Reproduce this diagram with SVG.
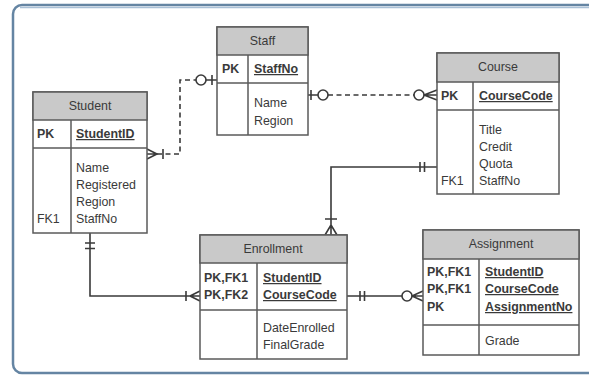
<svg xmlns="http://www.w3.org/2000/svg" width="589" height="377" viewBox="0 0 589 377">
<style>
.box{fill:#ffffff;stroke:#5a5a5a;stroke-width:1.5}
.hdr{fill:#c9c9c9;stroke:#5a5a5a;stroke-width:1.5}
.ln{stroke:#5a5a5a;stroke-width:1.5;fill:none}
text{font-family:"Liberation Sans",Arial,sans-serif;font-size:12.4px;fill:#3a3a3a}
.t{text-anchor:middle}
.b{font-weight:bold}
.u{font-weight:bold;text-decoration:underline}
.c{stroke:#3a3a3a;stroke-width:1.6;fill:none}
.d{stroke-dasharray:5,3.5}
.o{fill:#ffffff;stroke:#3a3a3a;stroke-width:1.6}
</style>
<rect x="0" y="0" width="589" height="377" fill="#ffffff"/>
<rect x="13" y="5" width="590" height="368" rx="9" fill="#ffffff" stroke="#6585a3" stroke-width="2.5"/>
<line x1="20" y1="7.5" x2="589" y2="7.5" stroke="#a9c0d6" stroke-width="1.5"/>

<g id="connectors">
  <!-- Student - Staff -->
  <path class="c d" d="M157,154 H180 V80 H196"/>
  <path class="c" d="M147,149 L157,154 L147,159 M147,154 H157 M163,149 V159 M206,80 H217 M212,75 V85"/>
  <circle class="o" cx="201" cy="80" r="5"/>
  <!-- Staff - Course -->
  <path class="c" d="M308,95 H318 M311,90 V100"/>
  <circle class="o" cx="323" cy="95" r="5"/>
  <path class="c d" d="M328,95 H414"/>
  <circle class="o" cx="419" cy="95" r="5"/>
  <path class="c" d="M424,95 L437,90 M424,95 H437 M424,95 L437,100"/>
  <!-- Course - Enrollment -->
  <path class="c" d="M437,167 H331 V235 M420,162 V172 M424.5,162 V172 M325,219 H337 M331,225 L325,235 M331,225 L337,235"/>
  <!-- Student - Enrollment -->
  <path class="c" d="M90,233 V296 H200 M85,243 H95 M85,248.5 H95 M186,291 V301 M190,296 L200,291 M190,296 L200,301"/>
  <!-- Enrollment - Assignment -->
  <path class="c" d="M347,296 H402 M360,291 V301 M364.5,291 V301"/>
  <circle class="o" cx="407" cy="296" r="5"/>
  <path class="c" d="M412,296 L423,291 M412,296 H423 M412,296 L423,301"/>
</g>

<g id="staff">
  <rect class="box" x="217" y="27" width="91" height="108"/>
  <rect class="hdr" x="217" y="27" width="91" height="28"/>
  <line class="ln" x1="217" y1="83" x2="308" y2="83"/>
  <line class="ln" x1="248" y1="55" x2="248" y2="135"/>
  <text class="t" x="262.5" y="45">Staff</text>
  <text class="b" x="222" y="73">PK</text>
  <text class="u" x="254" y="73">StaffNo</text>
  <text x="254" y="107">Name</text>
  <text x="254" y="125">Region</text>
</g>

<g id="student">
  <rect class="box" x="33" y="92" width="114" height="141"/>
  <rect class="hdr" x="33" y="92" width="114" height="28"/>
  <line class="ln" x1="33" y1="148" x2="147" y2="148"/>
  <line class="ln" x1="71" y1="120" x2="71" y2="233"/>
  <text class="t" x="90" y="110">Student</text>
  <text class="b" x="37" y="138">PK</text>
  <text class="u" x="76" y="138">StudentID</text>
  <text x="76" y="172">Name</text>
  <text x="76" y="189">Registered</text>
  <text x="76" y="206">Region</text>
  <text x="76" y="223">StaffNo</text>
  <text x="37" y="223">FK1</text>
</g>

<g id="course">
  <rect class="box" x="437" y="53" width="122" height="141"/>
  <rect class="hdr" x="437" y="53" width="122" height="29"/>
  <line class="ln" x1="437" y1="110" x2="559" y2="110"/>
  <line class="ln" x1="473" y1="82" x2="473" y2="194"/>
  <text class="t" x="498" y="71">Course</text>
  <text class="b" x="441" y="100">PK</text>
  <text class="u" x="479" y="100">CourseCode</text>
  <text x="479" y="134">Title</text>
  <text x="479" y="151">Credit</text>
  <text x="479" y="168">Quota</text>
  <text x="479" y="185">StaffNo</text>
  <text x="441" y="185">FK1</text>
</g>

<g id="enrollment">
  <rect class="box" x="200" y="235" width="147" height="124"/>
  <rect class="hdr" x="200" y="235" width="147" height="28"/>
  <line class="ln" x1="200" y1="310" x2="347" y2="310"/>
  <line class="ln" x1="257" y1="263" x2="257" y2="359"/>
  <text class="t" x="273" y="253">Enrollment</text>
  <text class="b" x="204" y="282">PK,FK1</text>
  <text class="b" x="204" y="299">PK,FK2</text>
  <text class="u" x="263" y="282">StudentID</text>
  <text class="u" x="263" y="299">CourseCode</text>
  <text x="263" y="332">DateEnrolled</text>
  <text x="263" y="349">FinalGrade</text>
</g>

<g id="assignment">
  <rect class="box" x="423" y="230" width="156" height="125"/>
  <rect class="hdr" x="423" y="230" width="156" height="29"/>
  <line class="ln" x1="423" y1="325" x2="579" y2="325"/>
  <line class="ln" x1="479" y1="259" x2="479" y2="355"/>
  <text class="t" x="501" y="248">Assignment</text>
  <text class="b" x="427" y="276">PK,FK1</text>
  <text class="b" x="427" y="293">PK,FK1</text>
  <text class="b" x="427" y="311">PK</text>
  <text class="u" x="485" y="276">StudentID</text>
  <text class="u" x="485" y="293">CourseCode</text>
  <text class="u" x="485" y="311">AssignmentNo</text>
  <text x="485" y="345">Grade</text>
</g>
</svg>
